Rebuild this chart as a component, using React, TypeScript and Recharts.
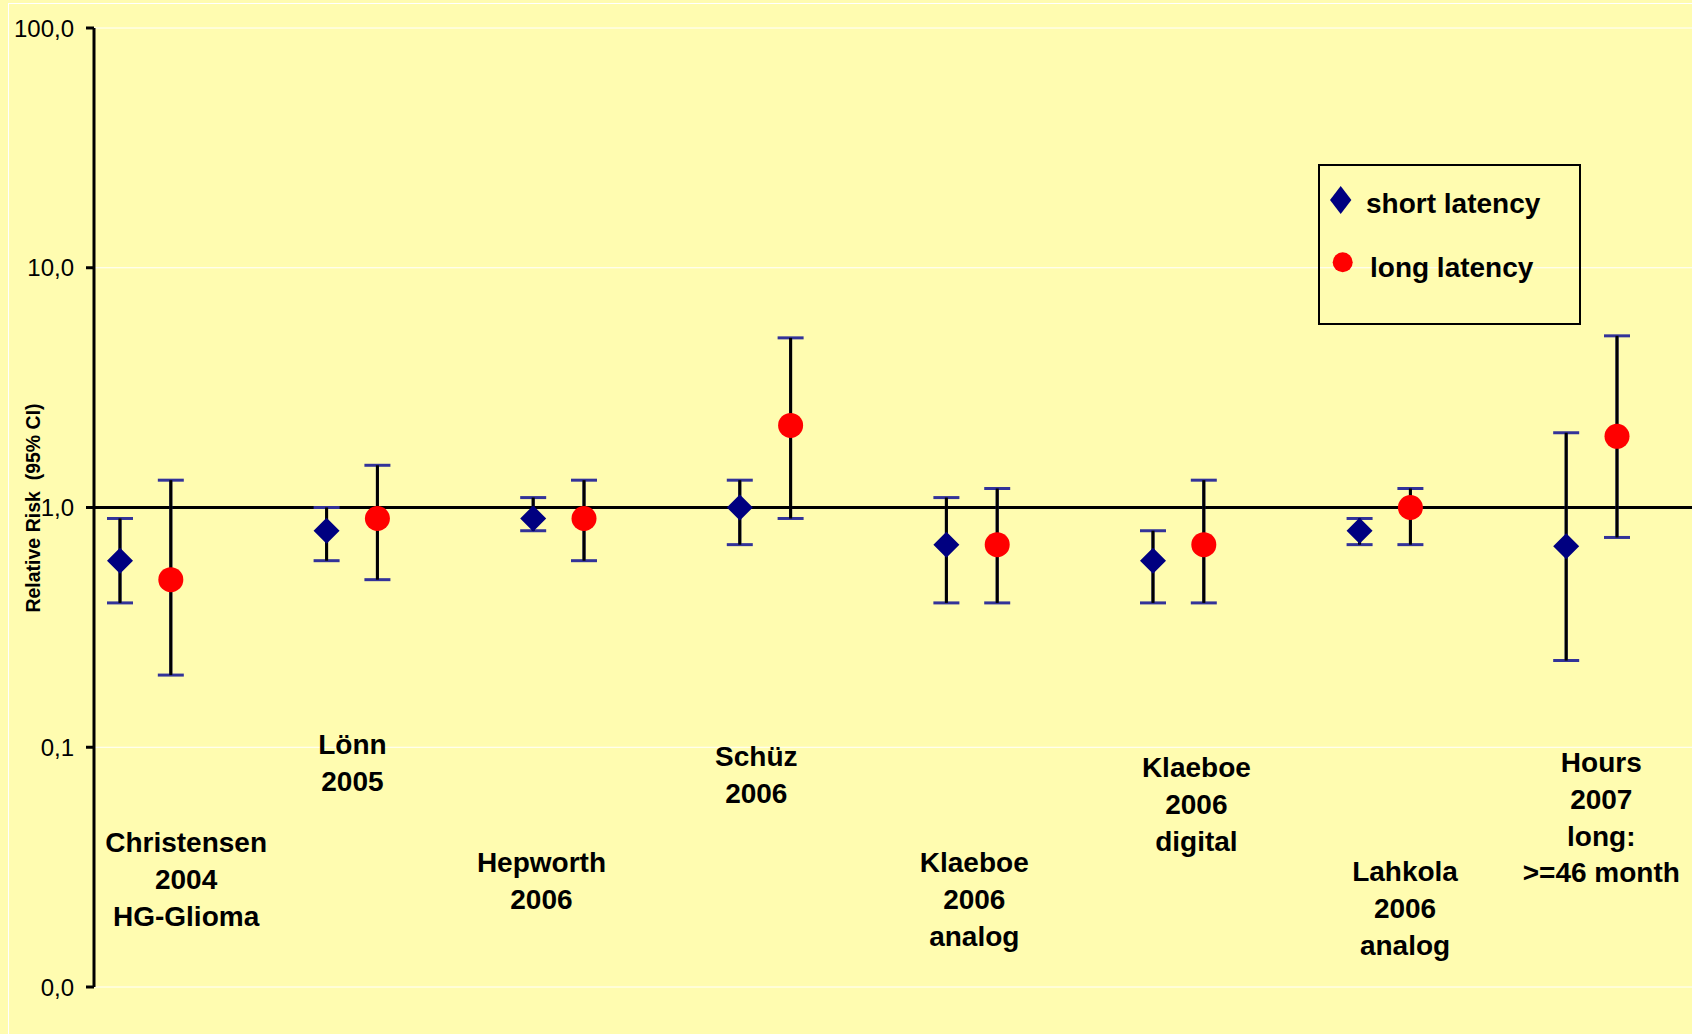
import { ScatterChart, Scatter, XAxis, YAxis, CartesianGrid, ReferenceLine, ReferenceDot, ErrorBar, Legend } from "recharts"

// study names, one entry per line of the label
const studies = [
  ["Christensen", "2004", "HG-Glioma"],
  ["Lönn", "2005"],
  ["Hepworth", "2006"],
  ["Schüz", "2006"],
  ["Klaeboe", "2006", "analog"],
  ["Klaeboe", "2006", "digital"],
  ["Lahkola", "2006", "analog"],
  ["Hours", "2007", "long:", ">=46 month"],
]

// relative risk with 95% CI
const shortRR = [0.6, 0.8, 0.9, 1.0, 0.7, 0.6, 0.8, 0.69]
const shortLow = [0.4, 0.6, 0.8, 0.7, 0.4, 0.4, 0.7, 0.23]
const shortHigh = [0.9, 1.0, 1.1, 1.3, 1.1, 0.8, 0.9, 2.05]

const longRR = [0.5, 0.9, 0.9, 2.2, 0.7, 0.7, 1.0, 1.98]
const longLow = [0.2, 0.5, 0.6, 0.9, 0.4, 0.4, 0.7, 0.75]
const longHigh = [1.3, 1.5, 1.3, 5.1, 1.2, 1.3, 1.2, 5.2]

const yTicks = [0.01, 0.1, 1, 10, 100]

// label placement: shift from the study slot (category units) and baseline of first line (px)
const labelShift = [0.32, 0.125, 0.04, 0.08, 0.135, 0.21, 0.22, 0.17]
const labelTop = [852, 754, 872, 766, 872, 777, 881, 772]

const LONG_OFFSET = 0.246
const FONT = "'Liberation Sans', Arial, sans-serif"

const shortData = shortRR.map((rr, i) => ({ x: i, rr, err: [rr - shortLow[i], shortHigh[i] - rr] }))
const longData = longRR.map((rr, i) => ({ x: i + LONG_OFFSET, rr, err: [rr - longLow[i], longHigh[i] - rr] }))

const fmt = (v) => v.toFixed(1).replace(".", ",")

const Diamond = ({ cx, cy }) => (
  <polygon points={`${cx},${cy - 13} ${cx + 13},${cy} ${cx},${cy + 13} ${cx - 13},${cy}`} fill="#000080" />
)

const Dot = ({ cx, cy }) => <circle cx={cx} cy={cy} r={12.5} fill="#FF0000" />

const StudyLabel = ({ viewBox, lines, top }) => {
  const cx = viewBox.x + viewBox.width / 2
  return (
    <text textAnchor="middle" fontFamily={FONT} fontWeight="bold" fontSize={28} fill="#000">
      {lines.map((l, k) => (
        <tspan key={k} x={cx} y={top + k * 36.8}>{l}</tspan>
      ))}
    </text>
  )
}

const LegendBox = () => (
  <svg width={263} height={161} style={{ display: "block" }}>
    <rect x={1} y={1} width={261} height={159} fill="none" stroke="#000" strokeWidth={2} />
    <polygon points="22.7,22 33.4,36 22.7,50 12,36" fill="#000080" />
    <text x={48} y={49} fontFamily={FONT} fontWeight="bold" fontSize={28}>short latency</text>
    <circle cx={24.7} cy={98.3} r={10} fill="#FF0000" />
    <text x={52} y={112.7} fontFamily={FONT} fontWeight="bold" fontSize={28}>long latency</text>
  </svg>
)

export default function App() {
  return (
    <div style={{ position: "absolute", left: 0, top: 0, width: 1692, height: 1034, background: "#FFFCB0", overflow: "hidden" }}>
      <div style={{ position: "absolute", left: 8, top: 3, right: -10, bottom: -10, borderLeft: "1px solid #fff", borderTop: "1px solid #fff" }} />
      <div style={{ position: "absolute", left: 0, top: 0 }}>
        <ScatterChart width={1692} height={1034} margin={{ top: 28, right: 0, bottom: 47, left: 0 }}>
          <CartesianGrid horizontal vertical={false} stroke="#fff" strokeWidth={1} />
          <XAxis type="number" dataKey="x" domain={[-0.1258, 7.609]} allowDataOverflow hide />
          <YAxis
            type="number"
            dataKey="rr"
            scale="log"
            domain={[0.01, 100]}
            allowDataOverflow
            ticks={yTicks}
            tickFormatter={fmt}
            width={94}
            tickSize={8}
            tickMargin={12}
            axisLine={{ stroke: "#000", strokeWidth: 3 }}
            tickLine={{ stroke: "#000", strokeWidth: 3 }}
            tick={{ fill: "#000", fontSize: 24, fontFamily: FONT }}
            label={() => (
              <text
                x={40}
                y={508}
                transform="rotate(-90, 40, 508)"
                textAnchor="middle"
                fontFamily={FONT}
                fontWeight="bold"
                fontSize={19.5}
                style={{ whiteSpace: "pre" }}
              >
                {"Relative Risk  (95% CI)"}
              </text>
            )}
          />
          <ReferenceLine y={1} stroke="#000" strokeWidth={3} />
          {studies.map((lines, i) => (
            <ReferenceDot
              key={i}
              x={i + labelShift[i]}
              y={1}
              r={0}
              fill="none"
              stroke="none"
              label={(p) => <StudyLabel {...p} lines={lines} top={labelTop[i]} />}
            />
          ))}
          <Scatter name="short latency" data={shortData} shape={Diamond} isAnimationActive={false}>
            <ErrorBar dataKey="err" direction="y" width={13} stroke="#333399" strokeWidth={3} />
            <ErrorBar dataKey="err" direction="y" width={0} stroke="#000" strokeWidth={3} />
          </Scatter>
          <Scatter name="long latency" data={longData} shape={Dot} isAnimationActive={false}>
            <ErrorBar dataKey="err" direction="y" width={13} stroke="#333399" strokeWidth={3} />
            <ErrorBar dataKey="err" direction="y" width={0} stroke="#000" strokeWidth={3} />
          </Scatter>
          <Legend
            layout="vertical"
            align="center"
            verticalAlign="middle"
            wrapperStyle={{ position: "absolute", left: 1318, top: 164, width: 263, height: 161 }}
            content={() => <LegendBox />}
          />
        </ScatterChart>
      </div>
    </div>
  )
}
